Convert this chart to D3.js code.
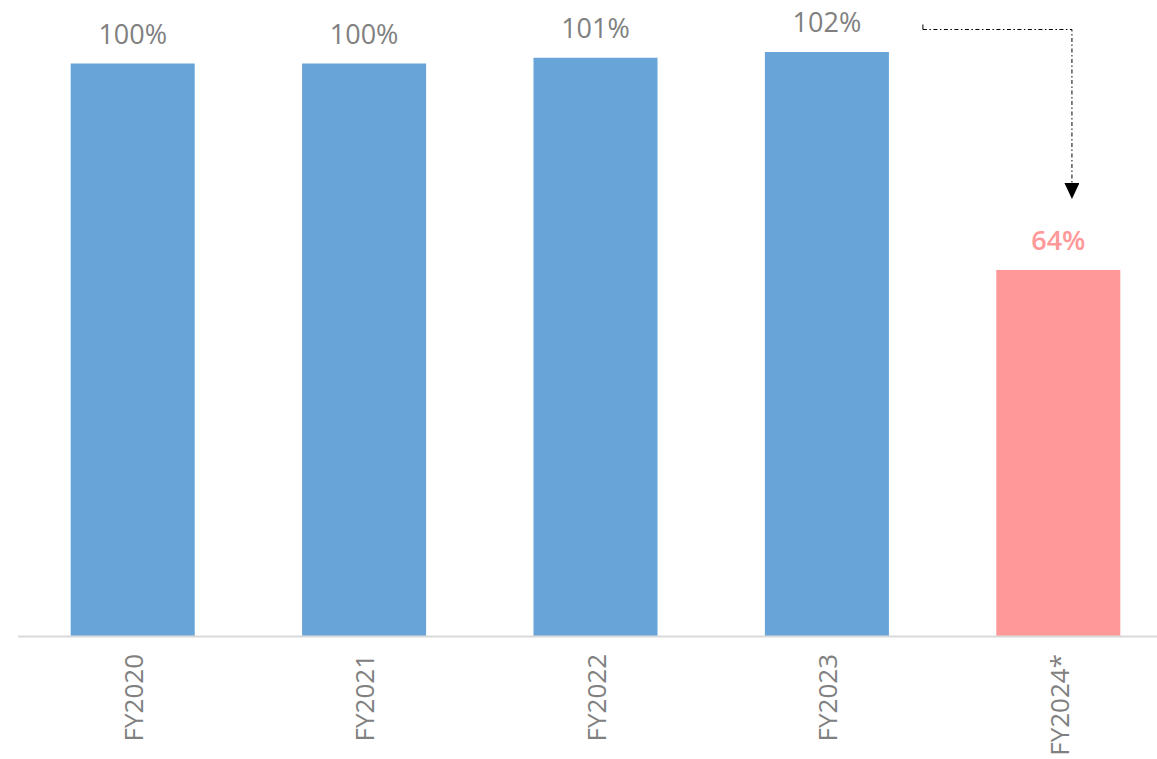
<!DOCTYPE html>
<html>
<head>
<meta charset="utf-8">
<script src="https://cdn.jsdelivr.net/npm/d3@7"></script>
<style>
  html, body { margin: 0; padding: 0; background: #fff; }
  svg { display: block; font-family: "Open Sans", "Noto Sans", sans-serif; }
</style>
</head>
<body>
<svg id="chart" width="1157" height="759"></svg>
<script>
// Yearly values, as a percentage of the baseline year
const categories = ["FY2020", "FY2021", "FY2022", "FY2023", "FY2024*"];
const values = [100, 100, 101, 102, 64];
const valueLabels = ["100%", "100%", "101%", "102%", "64%"];
const highlighted = [false, false, false, false, true];

const W = 1157, H = 759;
const svg = d3.select("#chart");

const baseY = 636;
const x = d3.scaleBand()
  .domain(categories)
  .range([17, 1174])
  .paddingInner(0.464)
  .paddingOuter(0.232);

const y = d3.scaleLinear()
  .domain([0, 100])
  .range([637, 63.5]);

const blue = "#68a4d8", pink = "#ff9999", grey = "#808080";

// Bars
svg.append("g").selectAll("rect")
  .data(categories)
  .join("rect")
  .attr("x", d => x(d))
  .attr("y", (d, i) => y(values[i]))
  .attr("width", x.bandwidth())
  .attr("height", (d, i) => baseY - y(values[i]))
  .attr("fill", (d, i) => highlighted[i] ? pink : blue);

// Value labels
svg.append("g").selectAll("text")
  .data(categories)
  .join("text")
  .attr("x", d => x(d) + x.bandwidth() / 2)
  .attr("y", (d, i) => y(values[i]) - 20)
  .attr("text-anchor", "middle")
  .attr("font-size", 27)
  .attr("font-weight", (d, i) => highlighted[i] ? 600 : 400)
  .attr("fill", (d, i) => highlighted[i] ? pink : grey)
  .text((d, i) => valueLabels[i]);

// Category axis
const axis = svg.append("g")
  .attr("transform", `translate(0,${baseY})`)
  .call(d3.axisBottom(x).tickSize(0).tickPadding(0));
axis.select(".domain").remove();
axis.append("line")
  .attr("x1", 18).attr("x2", W)
  .attr("y1", 0.5).attr("y2", 0.5)
  .attr("stroke", "#d9d9d9").attr("stroke-width", 2);
axis.selectAll(".tick text")
  .attr("font-size", 26)
  .attr("font-family", "'Open Sans', 'Noto Sans', sans-serif")
  .attr("fill", grey)
  .attr("text-anchor", "end")
  .attr("transform", "rotate(-90)")
  .attr("x", -18)
  .attr("y", 1)
  .attr("dy", "0.36em");

// Dash-dot connector from FY2023 to FY2024* with arrowhead
const defs = svg.append("defs");
defs.append("marker")
  .attr("id", "arrowhead")
  .attr("viewBox", "0 0 16 15")
  .attr("refX", 0).attr("refY", 7.5)
  .attr("markerWidth", 16).attr("markerHeight", 15)
  .attr("markerUnits", "userSpaceOnUse")
  .attr("orient", "auto")
  .append("path")
  .attr("d", "M0,0 L16,7.5 L0,15 Z")
  .attr("fill", "#000");

const fromX = x(categories[3]) + x.bandwidth() + 34;
const toX = x(categories[4]) + x.bandwidth() * 0.61;
const topY = 29.5;
const tipY = y(values[4]) - 71;

svg.append("line")
  .attr("x1", fromX).attr("x2", fromX)
  .attr("y1", topY - 5).attr("y2", topY)
  .attr("stroke", "#000").attr("stroke-width", 1);

svg.append("path")
  .attr("d", `M${fromX},${topY} H${toX} V${tipY - 16}`)
  .attr("fill", "none")
  .attr("stroke", "#000")
  .attr("stroke-width", 1)
  .attr("stroke-dasharray", "4,2.5,1.5,2.5")
  .attr("marker-end", "url(#arrowhead)");
</script>
</body>
</html>
